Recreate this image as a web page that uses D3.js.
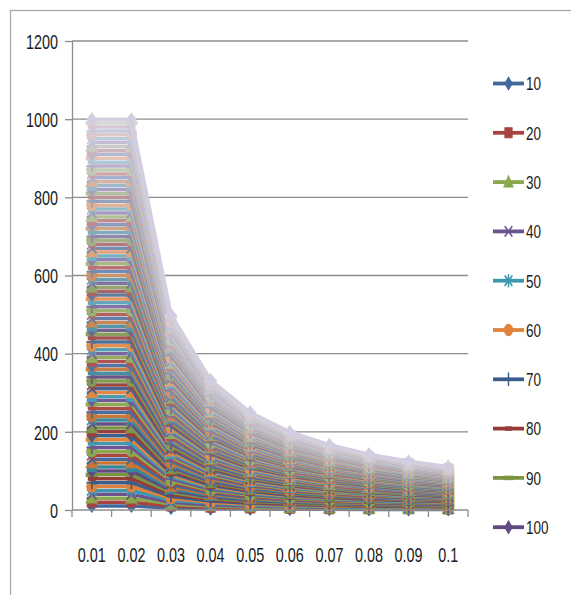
<!DOCTYPE html>
<html><head><meta charset="utf-8">
<script src="https://cdn.jsdelivr.net/npm/d3@7"></script>
<style>html,body{margin:0;padding:0;background:#fff;}svg{display:block;}</style>
</head><body>
<svg id="chart" width="571" height="595"></svg>
<script>
// ---------- DATA ----------
const categories = ["0.01","0.02","0.03","0.04","0.05","0.06","0.07","0.08","0.09","0.1"];
const yTicks = [0,200,400,600,800,1000,1200];
const legendNames = ["10","20","30","40","50","60","70","80","90","100"];
const seriesNames = [10,20,30,40,50,60,70,80,90,100,110,120,130,140,150,160,170,180,190,200,
210,220,230,240,250,260,270,280,290,300,310,320,330,340,350,360,370,380,390,400,
410,420,430,440,450,460,470,480,490,500,510,520,530,540,550,560,570,580,590,600,
610,620,630,640,650,660,670,680,690,700,710,720,730,740,750,760,770,780,790,800,
810,820,830,840,850,860,870,880,890,900,910,920,930,940,950,960,970,980,990,1000];
const seriesValues = [
[10,10,5,3,2.5,2,2,1,1,1],
[20,20,10,7,5,4,3,3,3,2],
[30,30,15,10,7.5,6,5,4,4,3],
[40,40,20,13,10,8,7,6,5,4],
[50,50,25,17,12.5,10,8,7,6,6],
[60,60,30,20,15,12,10,9,8,7],
[70,70,35,23,17.5,14,12,10,9,8],
[80,80,40,27,20,16,13,11,10,9],
[90,90,45,30,22.5,18,15,13,11,10],
[100,100,50,33,25,20,17,14,13,11],
[110,110,55,37,27.5,22,18,16,14,12],
[120,120,60,40,30,24,20,17,15,13],
[130,130,65,43,32.5,26,22,19,16,14],
[140,140,70,47,35,28,23,20,18,16],
[150,150,75,50,37.5,30,25,21,19,17],
[160,160,80,53,40,32,27,23,20,18],
[170,170,85,57,42.5,34,28,24,21,19],
[180,180,90,60,45,36,30,26,23,20],
[190,190,95,63,47.5,38,32,27,24,21],
[200,200,100,67,50,40,33,29,25,22],
[210,210,105,70,52.5,42,35,30,26,23],
[220,220,110,73,55,44,37,31,28,24],
[230,230,115,77,57.5,46,38,33,29,26],
[240,240,120,80,60,48,40,34,30,27],
[250,250,125,83,62.5,50,42,36,31,28],
[260,260,130,87,65,52,43,37,33,29],
[270,270,135,90,67.5,54,45,39,34,30],
[280,280,140,93,70,56,47,40,35,31],
[290,290,145,97,72.5,58,48,41,36,32],
[300,300,150,100,75,60,50,43,38,33],
[310,310,155,103,77.5,62,52,44,39,34],
[320,320,160,107,80,64,53,46,40,36],
[330,330,165,110,82.5,66,55,47,41,37],
[340,340,170,113,85,68,57,49,43,38],
[350,350,175,117,87.5,70,58,50,44,39],
[360,360,180,120,90,72,60,51,45,40],
[370,370,185,123,92.5,74,62,53,46,41],
[380,380,190,127,95,76,63,54,48,42],
[390,390,195,130,97.5,78,65,56,49,43],
[400,400,200,133,100,80,67,57,50,44],
[410,410,205,137,102.5,82,68,59,51,46],
[420,420,210,140,105,84,70,60,53,47],
[430,430,215,143,107.5,86,72,61,54,48],
[440,440,220,147,110,88,73,63,55,49],
[450,450,225,150,112.5,90,75,64,56,50],
[460,460,230,153,115,92,77,66,58,51],
[470,470,235,157,117.5,94,78,67,59,52],
[480,480,240,160,120,96,80,69,60,53],
[490,490,245,163,122.5,98,82,70,61,54],
[500,500,250,167,125,100,83,71,63,56],
[510,510,255,170,127.5,102,85,73,64,57],
[520,520,260,173,130,104,87,74,65,58],
[530,530,265,177,132.5,106,88,76,66,59],
[540,540,270,180,135,108,90,77,68,60],
[550,550,275,183,137.5,110,92,79,69,61],
[560,560,280,187,140,112,93,80,70,62],
[570,570,285,190,142.5,114,95,81,71,63],
[580,580,290,193,145,116,97,83,73,64],
[590,590,295,197,147.5,118,98,84,74,66],
[600,600,300,200,150,120,100,86,75,67],
[610,610,305,203,152.5,122,102,87,76,68],
[620,620,310,207,155,124,103,89,78,69],
[630,630,315,210,157.5,126,105,90,79,70],
[640,640,320,213,160,128,107,91,80,71],
[650,650,325,217,162.5,130,108,93,81,72],
[660,660,330,220,165,132,110,94,83,73],
[670,670,335,223,167.5,134,112,96,84,74],
[680,680,340,227,170,136,113,97,85,76],
[690,690,345,230,172.5,138,115,99,86,77],
[700,700,350,233,175,140,117,100,88,78],
[710,710,355,237,177.5,142,118,101,89,79],
[720,720,360,240,180,144,120,103,90,80],
[730,730,365,243,182.5,146,122,104,91,81],
[740,740,370,247,185,148,123,106,93,82],
[750,750,375,250,187.5,150,125,107,94,83],
[760,760,380,253,190,152,127,109,95,84],
[770,770,385,257,192.5,154,128,110,96,86],
[780,780,390,260,195,156,130,111,98,87],
[790,790,395,263,197.5,158,132,113,99,88],
[800,800,400,267,200,160,133,114,100,89],
[810,810,405,270,202.5,162,135,116,101,90],
[820,820,410,273,205,164,137,117,103,91],
[830,830,415,277,207.5,166,138,119,104,92],
[840,840,420,280,210,168,140,120,105,93],
[850,850,425,283,212.5,170,142,121,106,94],
[860,860,430,287,215,172,143,123,108,96],
[870,870,435,290,217.5,174,145,124,109,97],
[880,880,440,293,220,176,147,126,110,98],
[890,890,445,297,222.5,178,148,127,111,99],
[900,900,450,300,225,180,150,129,113,100],
[910,910,455,303,227.5,182,152,130,114,101],
[920,920,460,307,230,184,153,131,115,102],
[930,930,465,310,232.5,186,155,133,116,103],
[940,940,470,313,235,188,157,134,118,104],
[950,950,475,317,237.5,190,158,136,119,106],
[960,960,480,320,240,192,160,137,120,107],
[970,970,485,323,242.5,194,162,139,121,108],
[980,980,490,327,245,196,163,140,123,109],
[990,990,495,330,247.5,198,165,141,124,110],
[1000,1000,500,333,250,200,167,143,125,111]
];

// ---------- STYLE ----------
const W = 571, H = 595;
const plot = {left: 72, right: 468, top: 41, bottom: 510};
const baseColors = ["#41699B","#A8433F","#8AA74C","#6C5390","#3E97AE","#E0833A"];
const FONT = "'Liberation Sans', Arial, sans-serif";

function seriesColor(i, n) {
  let c = d3.rgb(baseColors[i % 6]);
  const g = Math.floor(i / 6);
  if (g % 2 === 1) c = c.darker(0.35);
  const t = Math.pow(i / (n - 1), 2.1) * 0.88;
  return d3.interpolateRgb(c, "#e1deec")(t);
}
const circlePath = d3.symbol().type(d3.symbolCircle).size(44)();
const markerDefs = [
  {d: "M0,-4.2L3.4,0L0,4.2L-3.4,0Z", fill: true},
  {d: "M-3.3,-3.3H3.3V3.3H-3.3Z", fill: true},
  {d: "M0,-4.2L4.2,3.2H-4.2Z", fill: true},
  {d: "M-3.5,-3.5L3.5,3.5M-3.5,3.5L3.5,-3.5", fill: false, w: 1.3},
  {d: "M-3.5,-3.5L3.5,3.5M-3.5,3.5L3.5,-3.5M0,-4.5V4.5", fill: false, w: 1.3},
  {d: circlePath, fill: true},
  {d: "M-4,0H4M0,-4.5V4.5", fill: false, w: 1.3},
  {d: "M-3,0H3", fill: false, w: 3},
  {d: "M-4.5,0H4.5", fill: false, w: 3}
];

const svg = d3.select("#chart");
svg.append("rect").attr("width", W).attr("height", H).attr("fill", "#fff");
// chart area border
svg.append("rect").attr("x", 10.5).attr("y", 10.5).attr("width", 620).attr("height", 640)
  .attr("fill", "none").attr("stroke", "#a9a9a9").attr("stroke-width", 1.3);

const x = d3.scaleBand().domain(categories).range([plot.left, plot.right]).padding(0);
const y = d3.scaleLinear().domain([0, 1200]).range([plot.bottom, plot.top]);
const cx = c => x(c) + x.bandwidth() / 2;

// gridlines
svg.append("g").selectAll("line").data(yTicks.filter(v => v > 0)).join("line")
  .attr("x1", plot.left).attr("x2", plot.right)
  .attr("y1", d => y(d)).attr("y2", d => y(d))
  .attr("stroke", "#8c8c8c").attr("stroke-width", 1.3);

// y axis
const yAxis = svg.append("g").attr("transform", `translate(${plot.left},0)`)
  .call(d3.axisLeft(y).tickValues(yTicks).tickFormat(d3.format("d")).tickSize(7).tickSizeOuter(0));
yAxis.select(".domain").attr("stroke", "#8c8c8c").attr("stroke-width", 1.3);
yAxis.selectAll(".tick line").attr("stroke", "#8c8c8c").attr("stroke-width", 1.3);
yAxis.selectAll(".tick text").attr("x", 0).attr("dy", "0.36em")
  .attr("transform", "translate(-14,0) scale(0.72,1)")
  .attr("font-family", FONT).attr("font-size", 20).attr("fill", "#1a1a1a").attr("text-anchor", "end");

// series
const line = d3.line().x((d, j) => cx(categories[j])).y(d => y(d));
const n = seriesValues.length;
const gSeries = svg.append("g");
seriesValues.forEach((vals, i) => {
  const col = seriesColor(i, n);
  const g = gSeries.append("g");
  g.append("path").attr("d", line(vals)).attr("fill", "none")
    .attr("stroke", col).attr("stroke-width", 3.5).attr("stroke-linejoin", "round");
  const m = markerDefs[i % markerDefs.length];
  g.selectAll("path.m").data(vals).join("path").attr("class", "m")
    .attr("d", m.d)
    .attr("transform", (d, j) => `translate(${cx(categories[j])},${y(d)}) scale(1.35,1.45)`)
    .attr("fill", m.fill ? col : "none")
    .attr("stroke", col).attr("stroke-width", m.w || 0.8);
});

// x axis
const xAxisG = svg.append("g").attr("transform", `translate(0,${plot.bottom})`);
xAxisG.append("line").attr("x1", plot.left).attr("x2", plot.right).attr("y1", 0).attr("y2", 0)
  .attr("stroke", "#8c8c8c").attr("stroke-width", 1.3);
const bounds = categories.map(c => x(c)).concat([plot.right]);
xAxisG.selectAll("line.t").data(bounds).join("line").attr("class", "t")
  .attr("x1", d => d).attr("x2", d => d).attr("y1", 0).attr("y2", 7)
  .attr("stroke", "#8c8c8c").attr("stroke-width", 1.3);
xAxisG.selectAll("text").data(categories).join("text")
  .attr("transform", d => `translate(${cx(d)},52) scale(0.72,1)`)
  .attr("text-anchor", "middle").attr("font-family", FONT).attr("font-size", 20).attr("fill", "#1a1a1a")
  .text(d => d);

// legend
const legend = svg.append("g");
legendNames.forEach((name, i) => {
  const ly = 83.5 + i * 49.3;
  const col = seriesColor(i, n);
  const m = markerDefs[i % markerDefs.length];
  legend.append("line").attr("x1", 493).attr("x2", 524).attr("y1", ly).attr("y2", ly)
    .attr("stroke", col).attr("stroke-width", 3.8);
  legend.append("path").attr("d", m.d)
    .attr("transform", `translate(508.5,${ly}) scale(1.1,1.5)`)
    .attr("fill", m.fill ? col : "none").attr("stroke", col).attr("stroke-width", m.w || 0.8);
  legend.append("text").attr("transform", `translate(526,${ly + 6.8}) scale(0.75,1)`)
    .attr("font-family", FONT).attr("font-size", 18).attr("fill", "#1a1a1a")
    .text(name);
});
</script>
</body></html>
